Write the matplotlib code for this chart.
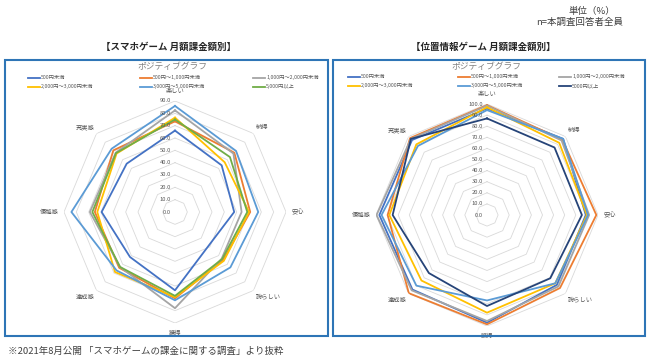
import numpy as np
import matplotlib
matplotlib.use("Agg")
import matplotlib.pyplot as plt
import matplotlib.patches as mpatches
from matplotlib.lines import Line2D
from matplotlib.transforms import offset_copy

plt.rcParams["font.family"] = ["Noto Sans CJK JP", "DejaVu Sans"]

# --- data ---
categories = ["楽しい", "納得", "安心", "誇らしい", "獲得", "達成感", "優越感", "充実感"]

left_labels = ["500円未満", "500円～1,000円未満", "1,000円～2,000円未満",
               "2,000円～3,000円未満", "3,000円～5,000円未満", "5,000円以上"]
left_under500 = [66, 53.5, 48, 38.6, 63.5, 51.6, 59.5, 55.4]
left_500_1000 = [73.5, 68, 61, 55, 70, 64, 65, 70.7]
left_1000_2000 = [82.4, 67, 54, 53.5, 78, 63, 69, 68]
left_2000_3000 = [76.5, 57, 60, 56, 69, 68.8, 63, 67]
left_3000_5000 = [86, 70, 67.5, 63.5, 71.6, 67, 84, 72.6]
left_over5000 = [75, 63, 58.6, 54, 68, 63, 67, 67.6]

right_labels = ["500円未満", "500円～1,000円未満", "1,000円～2,000円未満",
                "2,000円～3,000円未満", "3,000円～5,000円未満", "5000円以上"]
right_under500 = [96, 97, 89, 89, 97, 95, 97, 95.5]
right_500_1000 = [99, 96, 98.5, 93, 98.5, 99.6, 89.5, 98]
right_1000_2000 = [98.5, 95, 92, 91, 95.5, 96, 99.5, 97]
right_2000_3000 = [97, 92, 90, 87, 88, 83.5, 88, 90]
right_3000_5000 = [94.5, 97, 91, 87, 77, 90, 95, 88]
right_over5000 = [87, 86, 85.5, 80.6, 82, 74, 85, 97]

left_colors = ["#4472C4", "#ED7D31", "#A5A5A5", "#FFC000", "#5B9BD5", "#70AD47"]
right_colors = ["#4472C4", "#ED7D31", "#A5A5A5", "#FFC000", "#5B9BD5", "#264478"]

GRID = "#D9D9D9"
LABEL = "#595959"
FRAME = "#2E75B6"

W, H = 650, 361
fig = plt.figure(figsize=(6.5, 3.61), dpi=100)


def fx(px):
    return px / W


def fy(py):
    return 1 - py / H


def radar(cx, cy, rad, rmax, step, series, colors):
    rect = [fx(cx - rad), fy(cy + rad), 2 * rad / W, 2 * rad / H]
    ax = fig.add_axes(rect, projection="polar")
    ax.set_theta_zero_location("N")
    ax.set_theta_direction(-1)
    ax.set_ylim(0, rmax)
    ax.grid(False)
    ax.spines["polar"].set_visible(False)
    ax.set_xticks([])
    ax.set_yticks([])
    ax.patch.set_alpha(0)

    n = len(categories)
    th = np.linspace(0, 2 * np.pi, n, endpoint=False)
    th_c = np.append(th, th[0])
    levels = np.arange(0, rmax + step / 2, step)
    for lv in levels:
        ax.plot(th_c, [lv] * (n + 1), color=GRID, lw=0.6, zorder=1)
    lab_tr = offset_copy(ax.transData, fig=fig, x=-3, y=0, units="points")
    for lv in levels:
        ax.text(0, lv, f"{lv:.1f}", transform=lab_tr, ha="right", va="center",
                fontsize=4.2, color=LABEL, zorder=5)

    for vals, c in zip(series, colors):
        v = np.append(vals, vals[0])
        ax.plot(th_c, v, color=c, lw=1.3, zorder=3)

    for t, name in zip(th, categories):
        s, co = np.sin(t), np.cos(t)
        ha = "left" if s > 0.1 else ("right" if s < -0.1 else "center")
        va = "bottom" if co > 0.1 else ("top" if co < -0.1 else "center")
        r = rmax * (1.03 if abs(s) > 0.1 and abs(co) > 0.1 else 1.05)
        ax.text(t, r, name, ha=ha, va=va, fontsize=4.5, color=LABEL)
    return ax


def legend(x0s, rows_y, labels, colors):
    for i, (lab, c) in enumerate(zip(labels, colors)):
        x0 = x0s[i % 3]
        y = rows_y[i // 3]
        fig.add_artist(Line2D([fx(x0), fx(x0 + 12)], [fy(y), fy(y)],
                              color=c, lw=1.3, transform=fig.transFigure))
        fig.text(fx(x0 + 13), fy(y), lab, ha="left", va="center",
                 fontsize=3.8, color=LABEL)


# frames
for x0, x1 in [(5, 328), (333, 645)]:
    fig.add_artist(mpatches.Rectangle((fx(x0), fy(336)), fx(x1 - x0), (336 - 60) / H,
                                      transform=fig.transFigure, fill=False,
                                      edgecolor=FRAME, lw=1.5))

radar(175, 212, 111, 90, 10,
      [left_under500, left_500_1000, left_1000_2000, left_2000_3000,
       left_3000_5000, left_over5000], left_colors)
radar(487, 215, 111, 100, 10,
      [right_under500, right_500_1000, right_1000_2000, right_2000_3000,
       right_3000_5000, right_over5000], right_colors)

legend([28, 140, 253], [77.5, 86.5], left_labels, left_colors)
legend([348, 458, 559], [76.5, 85.5], right_labels, right_colors)

fig.text(fx(169), fy(47), "【スマホゲーム 月額課金額別】", ha="center", va="center",
         fontsize=6.8, fontweight="bold", color="#262626")
fig.text(fx(483), fy(47), "【位置情報ゲーム 月額課金額別】", ha="center", va="center",
         fontsize=6.8, fontweight="bold", color="#262626")
fig.text(fx(172), fy(67), "ポジティブグラフ", ha="center", va="center",
         fontsize=6.3, color="#808080")
fig.text(fx(486), fy(66), "ポジティブグラフ", ha="center", va="center",
         fontsize=6.3, color="#808080")

fig.text(fx(615), fy(11), "単位（%）", ha="right", va="center", fontsize=6.8, color="#404040")
fig.text(fx(623), fy(22), "n=本調査回答者全員", ha="right", va="center", fontsize=6.8,
         color="#404040")
fig.text(fx(8), fy(351), "※2021年8月公開 「スマホゲームの課金に関する調査」より抜粋",
         ha="left", va="center", fontsize=6.8, color="#404040")

fig.savefig("out.png", dpi=100, facecolor="white")
